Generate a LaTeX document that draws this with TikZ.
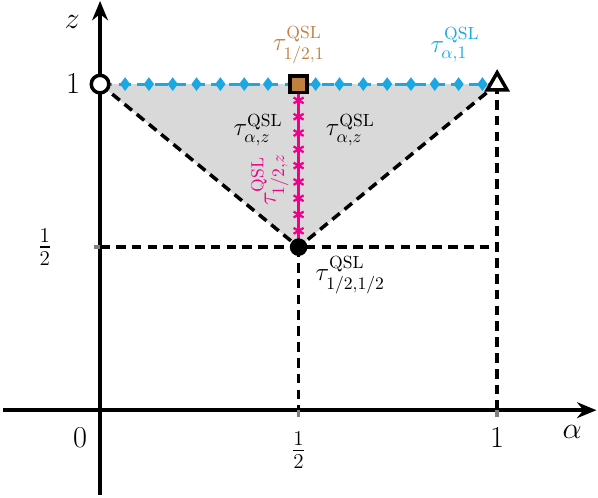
\documentclass[tikz,border=0pt]{standalone}
\usepackage{amsmath}
\usetikzlibrary{arrows.meta,shapes.geometric,plotmarks}
\definecolor{qslblue}{RGB}{27,167,226}
\definecolor{qslpink}{RGB}{236,0,140}
\definecolor{qslbrown}{RGB}{193,127,64}
\tikzset{
  axisline/.style={line width=2pt,-{Stealth[length=11pt,width=9pt]}},
  guide/.style={line width=2pt,dash pattern=on 5.5pt off 3.5pt},
  tick/.style={gray,line width=2pt},
  lbl/.style={font=\LARGE},
  tau/.style={font=\Large},
  bluemark/.style={diamond,fill=qslblue,inner sep=0pt,minimum width=6pt,minimum height=8pt},
}
\begin{document}
\begin{tikzpicture}[x=7.94cm,y=6.52cm]
    \useasboundingbox (-0.252,-0.267) rectangle (1.254,1.258);
    \fill[black!15] (0,1) -- (1,1) -- (0.5,0.5) -- cycle;
    % axes
    \draw[axisline] (-0.245,0) -- (1.25,0);
    \draw[axisline] (0,-0.26) -- (0,1.255);
    \draw[tick] (0.5,0) -- (0.5,-0.02);
    \draw[tick] (1,0) -- (1,-0.02);
    \draw[tick] (0,0.5) -- (-0.015,0.5);
    % guides
    \draw[guide] (0,1) -- (0.5,0.5) -- (1,1);
    \draw[guide] (0,0.5) -- (1,0.5);
    \draw[guide] (0.5,0.5) -- (0.5,0);
    \draw[guide] (1,1) -- (1,0);
    % top edge
    \draw[qslblue,line width=1.6pt,dash pattern=on 7pt off 3.5pt] (0,1) -- (1,1);
    \foreach \i in {0,...,15}
        \node[bluemark] (d\i) at ({0.063+0.06*\i},1) {};
    % middle line
    \draw[qslpink,line width=2pt] (0.5,0.5) -- (0.5,1);
    \draw[qslpink,line width=1.3pt] plot[only marks,mark=asterisk,mark size=3.3pt,samples at={1,...,9}] (0.5,{0.5+0.05*\x});
    % corner points
    \node[circle,draw,fill=white,line width=2pt,minimum size=10pt,inner sep=0pt] (top0) at (0,1) {};
    \node[circle,fill=black,minimum size=10pt,inner sep=0pt] (mid) at (0.5,0.5) {};
    \node[rectangle,draw,fill=qslbrown,line width=2pt,minimum size=9.5pt,inner sep=0pt] (tophalf) at (0.5,1) {};
    \node[regular polygon,regular polygon sides=3,draw,fill=white,line width=2pt,minimum size=13pt,inner sep=0pt] (top1) at (1,1) {};
    % labels
    \node[lbl] (o) at (-0.05,-0.083) {$0$};
    \node[lbl] (ahalf) at (0.5,-0.123) {$\frac{1}{2}$};
    \node[lbl] (aone) at (1,-0.083) {$1$};
    \node[lbl] (alpha) at (1.189,-0.067) {$\alpha$};
    \node[lbl] (zlab) at (-0.07,1.19) {$z$};
    \node[lbl] (zone) at (-0.068,1) {$1$};
    \node[lbl] (zhalf) at (-0.139,0.5) {$\frac{1}{2}$};
    \node[tau,text=qslbrown] (tbrown) at (0.5,1.12) {$\tau^{\mathrm{QSL}}_{1/2,1}$};
    \node[tau,text=qslblue] (tblue) at (0.894,1.12) {$\tau^{\mathrm{QSL}}_{\alpha,1}$};
    \node[tau] (tleft) at (0.398,0.859) {$\tau^{\mathrm{QSL}}_{\alpha,z}$};
    \node[tau] (tright) at (0.63,0.859) {$\tau^{\mathrm{QSL}}_{\alpha,z}$};
    \node[tau,text=qslpink,rotate=90] (tpink) at (0.428,0.706) {$\tau^{\mathrm{QSL}}_{1/2,z}$};
    \node[tau] (tmid) at (0.63,0.414) {$\tau^{\mathrm{QSL}}_{1/2,1/2}$};
\end{tikzpicture}
\end{document}
